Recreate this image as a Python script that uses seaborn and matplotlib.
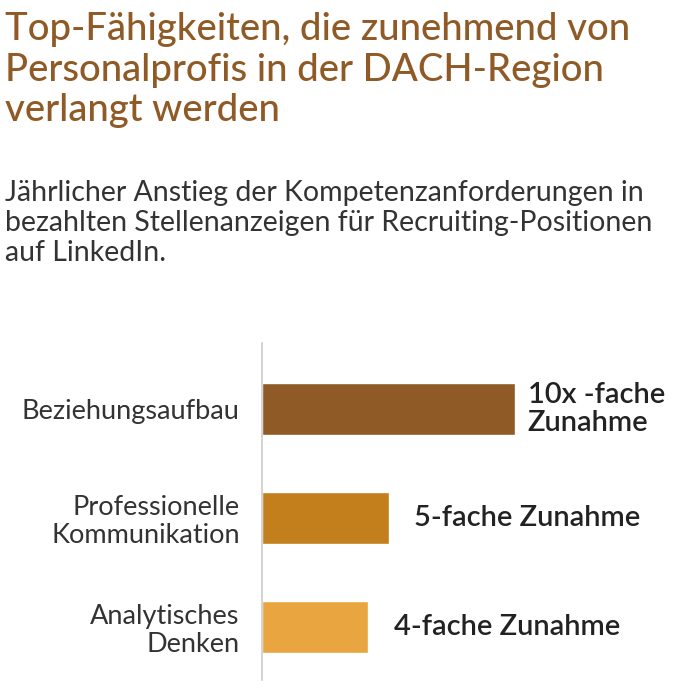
import pandas as pd
import seaborn as sns
import matplotlib.pyplot as plt

skills = ["Beziehungsaufbau", "Professionelle\nKommunikation", "Analytisches\nDenken"]
increase = [10, 5, 4.2]
value_labels = ["10x -fache\nZunahme", "5-fache Zunahme", "4-fache Zunahme"]
bar_colors = ["#8f5a25", "#c47f1d", "#e8a540"]

title = "Top-Fähigkeiten, die zunehmend von\nPersonalprofis in der DACH-Region\nverlangt werden"
subtitle = ("Jährlicher Anstieg der Kompetenzanforderungen in\n"
            "bezahlten Stellenanzeigen für Recruiting-Positionen\n"
            "auf LinkedIn.")

sns.set_style("white")
plt.rcParams['font.family'] = ['Lato', 'DejaVu Sans']

df = pd.DataFrame({"skill": skills, "increase": increase})

fig = plt.figure(figsize=(6.85, 6.89), dpi=100)
ax = fig.add_axes([262 / 685, 1 - 680 / 689, 1 - 262 / 685, 337 / 689])
sns.barplot(data=df, x="increase", y="skill", hue="skill", palette=bar_colors,
            width=0.48, legend=False, ax=ax, saturation=1)
ax.set_xlim(0, 423 / 25.3)
ax.set_ylim(2.49, -0.607)
ax.set_xlabel("")
ax.set_ylabel("")
ax.set_xticks([])
ax.tick_params(axis="y", length=0, pad=16, labelsize=19.5, labelcolor="#333333")
for lbl in ax.get_yticklabels():
    lbl.set_horizontalalignment("right")
    lbl.set_multialignment("right")
    lbl.set_linespacing(1.15)
for s in ["top", "right", "bottom"]:
    ax.spines[s].set_visible(False)
ax.spines["left"].set_color("#cccccc")
ax.spines["left"].set_linewidth(1.2)

for i, (v, t) in enumerate(zip(increase, value_labels)):
    gap = 0.5 if i == 0 else 1.0
    ax.text(v + gap, i, t, va="center", ha="left", fontsize=21,
            fontweight="semibold", color="#222222", linespacing=1.1)

fig.text(5 / 685, 1 - 12 / 689, title, ha="left", va="top", fontsize=27.5,
         fontweight="medium", color="#8f5a25", linespacing=1.2)
fig.text(5 / 685, 1 - 180 / 689, subtitle, ha="left", va="top", fontsize=20.5,
         color="#333333", linespacing=1.2)

fig.savefig("out.png", dpi=100)
